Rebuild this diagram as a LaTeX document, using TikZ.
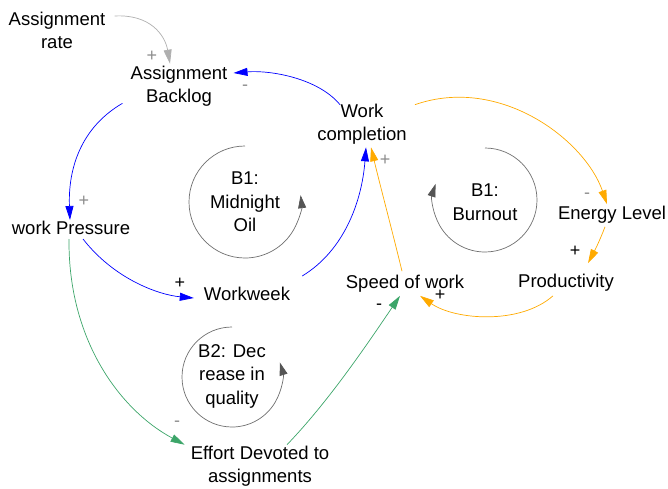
\documentclass[tikz,border=0pt]{standalone}
\usepackage{fontspec}
\setmainfont{Liberation Sans}
\usetikzlibrary{arrows.meta}
\definecolor{cblue}{RGB}{0,0,255}
\definecolor{corange}{RGB}{255,170,0}
\definecolor{cgreen}{RGB}{60,165,105}
\definecolor{cgrayarrow}{RGB}{175,175,175}
\definecolor{cloop}{RGB}{110,110,110}
\definecolor{cloophead}{RGB}{85,85,85}
\definecolor{csign}{RGB}{140,140,140}
\tikzset{
  var/.style={align=center, inner sep=1pt, font=\fontsize{18.5}{23}\selectfont},
  looplabel/.style={align=center, inner sep=1pt, font=\fontsize{18.5}{23.5}\selectfont},
  link/.style={line width=0.7pt, -{Triangle[length=14pt,width=8pt]}},
  loopline/.style={draw=cloop, line width=0.7pt, -{Triangle[length=13pt,width=8pt,color=cloophead]}},
  signg/.style={inner sep=0pt, text=csign, font=\fontsize{18}{18}\selectfont},
  signb/.style={inner sep=0pt, text=black, font=\fontsize{18}{18}\selectfont},
}
\begin{document}
\begin{tikzpicture}[x=1pt,y=-1pt]
\useasboundingbox (0,0) rectangle (668,488);
% variables
\node[var] (ar) at (57,30) {Assignment\\rate};
\node[var] (ab) at (179,86) {Assignment\\Backlog};
\node[var] (wc) at (362,124) {Work\\completion};
\node[var] (wp) at (71,228) {work Pressure};
\node[var] (ww) at (247,294) {Workweek};
\node[var] (sw) at (405,284) {Speed of work};
\node[var] (el) at (612,215) {Energy Level};
\node[var] (pr) at (566,283) {Productivity};
\node[var] (ed) at (260,466) {Effort Devoted to\\assignments};
% loop labels
\node[looplabel] (l1) at (245,202) {B1:\\Midnight\\Oil};
\node[looplabel] (l2) at (485,202) {B1:\\Burnout};
\node[looplabel] (l3) at (232,376) {B2: Dec\\rease in\\quality};
% loop arcs
\draw[loopline] (245,146) arc[start angle=-90, end angle=-367, radius=56];
\draw[loopline] (485,148) arc[start angle=-90, end angle=198, radius=52];
\draw[loopline] (232,327) arc[start angle=-90, end angle=-377, radius=50];
% links
\draw[link, draw=cgrayarrow] ([xshift=8pt,yshift=14pt]ar.east) .. controls (150,14) and (165,35) .. ([xshift=-9pt,yshift=1pt]ab.north);
\draw[link, draw=cblue] ([xshift=-22pt,yshift=-2pt]wc.north) .. controls (318,78) and (270,70) .. ([xshift=5pt,yshift=13pt]ab.east);
\draw[link, draw=cblue] ([xshift=-7pt,yshift=4pt]ab.south west) .. controls (80,128) and (68,170) .. ([xshift=-1pt]wp.north);
\draw[link, draw=cblue] ([xshift=12pt,yshift=-3pt]wp.south) .. controls (115,280) and (160,295) .. ([xshift=-9pt,yshift=-4pt]ww.west);
\draw[link, draw=cblue] ([xshift=11pt,yshift=10pt]ww.north east) .. controls (345,250) and (362,200) .. ([xshift=4pt,yshift=-2pt]wc.south);
\draw[link, draw=corange] ([xshift=7pt,yshift=-2pt]wc.north east) .. controls (500,75) and (585,140) .. ([xshift=-5pt,yshift=1pt]el.north);
\draw[link, draw=corange] ([xshift=-7pt,yshift=-2pt]el.south) .. controls (600,240) and (595,250) .. ([xshift=22pt,yshift=10pt]pr.north);
\draw[link, draw=corange] ([xshift=-13pt,yshift=-3pt]pr.south) .. controls (520,325) and (455,320) .. ([xshift=15pt,yshift=-2pt]sw.south);
\draw[link, draw=corange] ([xshift=-3pt,yshift=3pt]sw.north) .. controls (392,230) and (380,185) .. ([xshift=9pt,yshift=-2pt]wc.south);
\draw[link, draw=cgreen] ([xshift=-2pt,yshift=-3pt]wp.south) .. controls (68,340) and (120,410) .. ([xshift=-5pt]ed.north west);
\draw[link, draw=cgreen] ([xshift=27pt]ed.north) .. controls (330,400) and (370,340) .. ([xshift=-5pt,yshift=-2pt]sw.south);
% polarity signs
\node[signg] (s1) at (152,56) {+};
\node[signg] (s2) at (245,88) {-};
\node[signg] (s3) at (84,201) {+};
\node[signb] (s4) at (180,283) {+};
\node[signg] (s5) at (385,160) {+};
\node[signg] (s6) at (587,196) {-};
\node[signb] (s7) at (575,251) {+};
\node[signb] (s8) at (440,295) {+};
\node[signb] (s9) at (379,307) {-};
\node[signg] (s10) at (177,424) {-};
\end{tikzpicture}
\end{document}
